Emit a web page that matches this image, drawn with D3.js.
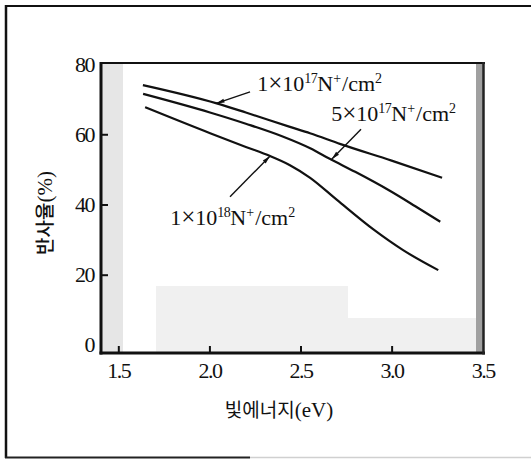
<!DOCTYPE html>
<html><head><meta charset="utf-8">
<script src="https://cdn.jsdelivr.net/npm/d3@7/dist/d3.min.js"></script>
<style>
html,body{margin:0;padding:0;background:#fff;}
svg{display:block;}
</style></head>
<body>
<script>
// ---- data ----
const xTicks = [1.5, 2.0, 2.5, 3.0, 3.5];
const yTicks = [0, 20, 40, 60, 80];
const seriesNames = ["1e17", "5e17", "1e18"];
const energy17 = [1.635, 2.04, 2.2, 2.442, 2.552, 2.72, 3.0, 3.277];
const refl17   = [74.0, 68.8, 66.2, 62.1, 60.3, 57.2, 52.5, 47.6];
const energy5e17 = [1.636, 2.003, 2.2, 2.395, 2.553, 2.66, 2.8, 2.99, 3.13, 3.267];
const refl5e17   = [71.5, 66.2, 63.0, 59.5, 56.0, 53.0, 49.3, 43.9, 39.5, 35.1];
const energy18 = [1.647, 2.004, 2.2, 2.333, 2.442, 2.553, 2.7, 2.9, 3.063, 3.256];
const refl18   = [67.7, 60.3, 56.4, 53.8, 51.2, 47.6, 41.3, 32.9, 27.0, 21.3];
// annotations
const annMantissa = ["1", "5", "1"];
const annExponent = ["17", "17", "18"];
const annLabelE = [2.262, 2.668, 1.785];
const annLabelR = [72.4, 63.9, 34.1];
const annFromE = [2.223, 2.832, 2.113];
const annFromR = [72.1, 61.4, 42.2];
const annToE = [2.037, 2.671, 2.333];
const annToR = [68.8, 52.9, 53.8];

const W = 531, H = 459;
const svg = d3.select("body").append("svg").attr("width", W).attr("height", H);

const x = d3.scaleLinear().domain([1.405, 3.507]).range([101, 484]);
const y = d3.scaleLinear().domain([-2.3, 80.3]).range([353, 63]);

// outer frame
svg.append("line").attr("x1", 6).attr("y1", 5).attr("x2", 6).attr("y2", 458).attr("stroke", "#111").attr("stroke-width", 2.5);
svg.append("line").attr("x1", 5).attr("y1", 6).attr("x2", 531).attr("y2", 6).attr("stroke", "#111").attr("stroke-width", 2);
svg.append("line").attr("x1", 5).attr("y1", 457.5).attr("x2", 250).attr("y2", 457.5).attr("stroke", "#222").attr("stroke-width", 2);
svg.append("line").attr("x1", 250).attr("y1", 457.5).attr("x2", 531).attr("y2", 457.5).attr("stroke", "#d0d0d0").attr("stroke-width", 1.5);

// scan tone areas inside plot
const g = svg.append("g");
g.append("rect").attr("x", 102).attr("y", 64).attr("width", 21).attr("height", 289).attr("fill", "#e6e6e6");
g.append("rect").attr("x", 156).attr("y", 286).attr("width", 192).attr("height", 67).attr("fill", "#f0f0f0");
g.append("rect").attr("x", 348).attr("y", 318).attr("width", 128).attr("height", 35).attr("fill", "#f0f0f0");
g.append("rect").attr("x", 476).attr("y", 63).attr("width", 7).attr("height", 290).attr("fill", "#a0a0a0");

// axes
const fmtX = d3.format(".1f");
const xAxis = d3.axisBottom(x).tickValues(xTicks).tickFormat(fmtX).tickSizeInner(-7).tickSizeOuter(0).tickPadding(9);
const yAxis = d3.axisLeft(y).tickValues(yTicks).tickFormat(d3.format("d")).tickSizeInner(-7).tickSizeOuter(0).tickPadding(7);

const gx = svg.append("g").attr("transform", "translate(0,353)").call(xAxis);
const gy = svg.append("g").attr("transform", "translate(101,0)").call(yAxis);
[gx, gy].forEach(a => {
  a.select(".domain").remove();
  a.selectAll(".tick line").attr("stroke", "#111").attr("stroke-width", 2);
  a.selectAll(".tick text").attr("font-family", "'Liberation Serif', 'DejaVu Serif', serif")
    .attr("font-size", 22).attr("fill", "#111").style("letter-spacing", "-1.5px");
});
gx.selectAll(".tick").filter(d => d === 3.5).select("line").remove();
gy.selectAll(".tick").filter(d => d === 0 || d === 80).select("line").remove();

// plot box
svg.append("line").attr("x1", 101).attr("y1", 62).attr("x2", 101).attr("y2", 354.5).attr("stroke", "#111").attr("stroke-width", 3);
svg.append("line").attr("x1", 99.5).attr("y1", 353).attr("x2", 485).attr("y2", 353).attr("stroke", "#111").attr("stroke-width", 3);
svg.append("line").attr("x1", 100).attr("y1", 63).attr("x2", 485).attr("y2", 63).attr("stroke", "#111").attr("stroke-width", 2.2);
svg.append("line").attr("x1", 483.5).attr("y1", 62).attr("x2", 483.5).attr("y2", 354.5).attr("stroke", "#222").attr("stroke-width", 2.5);

// curves
const series = [
  {name: seriesNames[0], e: energy17, r: refl17},
  {name: seriesNames[1], e: energy5e17, r: refl5e17},
  {name: seriesNames[2], e: energy18, r: refl18}
];
const line = d3.line().x(d => x(d[0])).y(d => y(d[1])).curve(d3.curveMonotoneX);
series.forEach(s => {
  svg.append("path").datum(d3.zip(s.e, s.r)).attr("d", line)
    .attr("fill", "none").attr("stroke", "#111").attr("stroke-width", 2.2);
});

// arrow marker
svg.append("defs").append("marker").attr("id", "ah").attr("viewBox", "0 0 10 6")
  .attr("refX", 10).attr("refY", 3).attr("markerWidth", 10).attr("markerHeight", 5)
  .attr("markerUnits", "userSpaceOnUse").attr("orient", "auto")
  .append("path").attr("d", "M0,0.6 L10,3 L0,5.4 Z").attr("fill", "#111");

annMantissa.forEach((m, i) => {
  svg.append("line")
    .attr("x1", x(annFromE[i])).attr("y1", y(annFromR[i]))
    .attr("x2", x(annToE[i])).attr("y2", y(annToR[i]))
    .attr("stroke", "#111").attr("stroke-width", 1.4).attr("marker-end", "url(#ah)");
  const t = svg.append("text").attr("x", x(annLabelE[i])).attr("y", y(annLabelR[i]))
    .attr("font-family", "'Liberation Serif', 'DejaVu Serif', serif").attr("font-size", 22).attr("fill", "#111");
  t.append("tspan").text(m);
  t.append("tspan").attr("font-size", 25).text("×");
  t.append("tspan").text("10");
  t.append("tspan").attr("dy", -8).attr("font-size", 14).style("letter-spacing", "-0.5px").text(annExponent[i]);
  t.append("tspan").attr("dy", 8).text("N");
  t.append("tspan").attr("dy", -8).attr("font-size", 14).text("+");
  t.append("tspan").attr("dy", 8).attr("dx", 1).text("/cm");
  t.append("tspan").attr("dy", -8).attr("font-size", 14).text("2");
});

// axis titles
const xt = svg.append("text").attr("x", 279).attr("y", 417).attr("text-anchor", "middle").attr("fill", "#111");
xt.append("tspan").attr("font-family", "'Noto Sans CJK KR', sans-serif").attr("font-size", 19).text("빛에너지");
xt.append("tspan").attr("font-family", "'Liberation Serif', serif").attr("font-size", 21).text("(eV)");

const yt = svg.append("text").attr("transform", "translate(52,213) rotate(-90)").attr("text-anchor", "middle").attr("fill", "#111");
yt.append("tspan").attr("font-family", "'Noto Sans CJK KR', sans-serif").attr("font-size", 19).attr("font-weight", 500).text("반사율");
yt.append("tspan").attr("font-family", "'Liberation Serif', serif").attr("font-size", 21).text("(%)");
</script>
</body></html>
